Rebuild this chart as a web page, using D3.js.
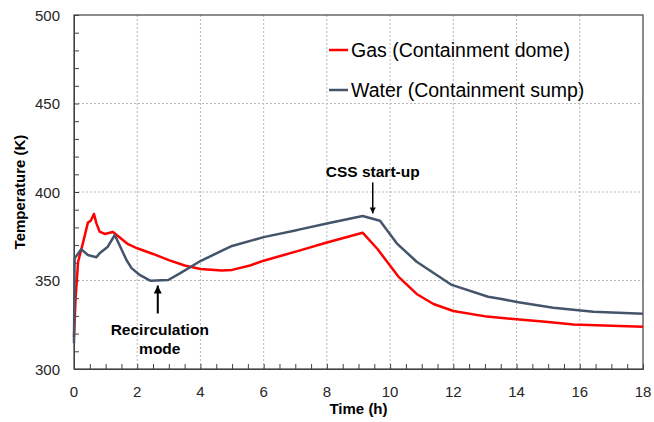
<!DOCTYPE html>
<html>
<head>
<meta charset="utf-8">
<script src="https://cdn.jsdelivr.net/npm/d3@7"></script>
<style>
  html, body { margin: 0; padding: 0; background: #fff; }
  svg { display: block; font-family: "Liberation Sans", Arial, sans-serif; }
</style>
</head>
<body>
<svg id="chart" width="654" height="422"></svg>
<script>
// ---- Data ----
const gasTime  = [0, 0.05, 0.13, 0.28, 0.44, 0.53, 0.63, 0.71, 0.81, 0.97, 1.23, 1.39, 1.71, 2.0, 2.5, 3.0, 3.5, 4.0, 4.67, 5.0, 5.57, 6.0, 7.15, 8.0, 9.13, 9.6, 10.26, 10.84, 11.37, 12.0, 13.06, 14.0, 15.0, 15.8, 17.0, 18.0];
const gasTemp  = [318, 340, 360.6, 371, 382.7, 383.8, 387.6, 382.3, 377.6, 376.3, 377.4, 375.1, 370.5, 368.2, 365, 361.5, 358.5, 356.5, 355.6, 356, 358.5, 361.2, 367, 371.5, 377, 367.8, 352.2, 342.4, 336.7, 332.8, 329.6, 328.1, 326.5, 325.2, 324.5, 323.9];

const waterTime = [0, 0.02, 0.23, 0.44, 0.71, 0.81, 1.07, 1.29, 1.39, 1.66, 1.82, 2.09, 2.41, 2.98, 3.35, 4.0, 4.7, 5.0, 6.0, 7.0, 7.15, 8.0, 9.13, 9.68, 10.21, 10.84, 11.95, 13.1, 13.48, 14.06, 15.16, 16.43, 18.0];
const waterTemp = [314.5, 362.5, 367.6, 364.4, 363.1, 365.4, 369.1, 375.7, 371.9, 361.6, 357, 353, 349.9, 350.3, 354, 361, 367, 369.5, 374.5, 378.3, 378.9, 382.2, 386.4, 383.8, 371, 360.6, 347.5, 340.8, 339.7, 337.7, 334.6, 332.4, 331.2];

const seriesNames  = ["Gas (Containment dome)", "Water (Containment sump)"];
const seriesColors = ["#ff0000", "#44546a"];

const xTickValues = [0, 2, 4, 6, 8, 10, 12, 14, 16, 18];
const yTickValues = [300, 350, 400, 450, 500];

const annotations = [
  { lines: ["Recirculation", "mode"], t: 2.65, T: 350 },
  { lines: ["CSS start-up"], t: 9.45, T: 384.5 }
];

// ---- Layout ----
const W = 654, H = 422;
const m = { left: 74, right: 11, top: 15, bottom: 53 };
const x0 = m.left, x1 = W - m.right, y0 = m.top, y1 = H - m.bottom;

const svg = d3.select("#chart");
const x = d3.scaleLinear().domain([0, 18]).range([x0, x1]);
const y = d3.scaleLinear().domain([300, 500]).range([y1, y0]);

const axisColor = "#404040";
const textColor = "#262626";

// grid
const g = svg.append("g");
g.selectAll("line.vg").data(xTickValues.filter(d => d > 0 && d < 18)).enter()
  .append("line")
  .attr("x1", d => x(d)).attr("x2", d => x(d))
  .attr("y1", y0).attr("y2", y1)
  .attr("stroke", "#b8b8b8").attr("stroke-width", 1).attr("stroke-dasharray", "2,2");
g.selectAll("line.hg").data(yTickValues.filter(d => d > 300 && d < 500)).enter()
  .append("line")
  .attr("x1", x0).attr("x2", x1)
  .attr("y1", d => y(d)).attr("y2", d => y(d))
  .attr("stroke", "#b8b8b8").attr("stroke-width", 1).attr("stroke-dasharray", "2,2");

// frame
svg.append("rect").attr("x", x0).attr("y", y0).attr("width", x1 - x0).attr("height", y1 - y0)
  .attr("fill", "none").attr("stroke", axisColor).attr("stroke-width", 1.2);

// axes (ticks inward)
const xAxis = d3.axisBottom(x).tickValues(d3.range(0, 18.01, 0.5)).tickSize(-5).tickFormat("");
svg.append("g").attr("transform", `translate(0,${y1})`).call(xAxis)
  .call(s => s.select(".domain").attr("stroke", axisColor))
  .call(s => s.selectAll(".tick line").attr("stroke", axisColor));
const yAxis = d3.axisLeft(y).tickValues(d3.range(300, 500.1, 10)).tickSize(-5).tickFormat("");
svg.append("g").attr("transform", `translate(${x0},0)`).call(yAxis)
  .call(s => s.select(".domain").attr("stroke", axisColor))
  .call(s => s.selectAll(".tick line").attr("stroke", axisColor));

// tick labels
svg.append("g").selectAll("text").data(xTickValues).enter().append("text")
  .attr("x", d => x(d)).attr("y", 397).attr("text-anchor", "middle")
  .attr("font-size", 15).attr("fill", textColor).text(d => d);
svg.append("g").selectAll("text").data(yTickValues).enter().append("text")
  .attr("x", 60).attr("y", d => y(d) + 5.5).attr("text-anchor", "end")
  .attr("font-size", 15).attr("fill", textColor).text(d => d);

// axis titles
svg.append("text").attr("x", (x0 + x1) / 2).attr("y", 414).attr("text-anchor", "middle")
  .attr("font-size", 15).attr("font-weight", "bold").attr("fill", "#000").text("Time (h)");
svg.append("text").attr("transform", `translate(25,${(y0 + y1) / 2}) rotate(-90)`)
  .attr("text-anchor", "middle")
  .attr("font-size", 15).attr("font-weight", "bold").attr("fill", "#000").text("Temperature (K)");

// lines
const line = d3.line().x(d => x(d[0])).y(d => y(d[1]));
const series = [d3.zip(gasTime, gasTemp), d3.zip(waterTime, waterTemp)];
series.forEach((s, i) => {
  svg.append("path").datum(s).attr("d", line)
    .attr("fill", "none").attr("stroke", seriesColors[i]).attr("stroke-width", 2.5)
    .attr("stroke-linejoin", "round");
});

// legend
const legY = [50, 90];
seriesNames.forEach((n, i) => {
  svg.append("line").attr("x1", 329).attr("x2", 348).attr("y1", legY[i]).attr("y2", legY[i])
    .attr("stroke", seriesColors[i]).attr("stroke-width", 2.5);
  svg.append("text").attr("x", 351).attr("y", legY[i] + 7).attr("font-size", 19.5)
    .attr("fill", "#000").text(n);
});

// annotations
svg.append("defs").append("marker").attr("id", "ah").attr("viewBox", "0 0 10 10")
  .attr("refX", 10).attr("refY", 5).attr("markerWidth", 4).attr("markerHeight", 4)
  .attr("markerUnits", "strokeWidth").attr("orient", "auto")
  .append("path").attr("d", "M0,0 L10,5 L0,10 Z").attr("fill", "#000");

// Recirculation mode: arrow below the curve pointing up
{
  const a = annotations[0];
  const ax = x(a.t);
  svg.append("line").attr("x1", ax).attr("x2", ax).attr("y1", y(a.T) + 33).attr("y2", y(a.T) + 5)
    .attr("stroke", "#000").attr("stroke-width", 2).attr("marker-end", "url(#ah)");
  a.lines.forEach((l, k) => {
    svg.append("text").attr("x", ax + 2).attr("y", y(a.T) + 54 + k * 19).attr("text-anchor", "middle")
      .attr("font-size", 15.5).attr("font-weight", "bold").attr("fill", "#000").text(l);
  });
}
// CSS start-up: arrow above pointing down
{
  const a = annotations[1];
  const ax = x(a.t);
  svg.append("line").attr("x1", ax).attr("x2", ax).attr("y1", y(a.T) - 37).attr("y2", y(a.T) - 6)
    .attr("stroke", "#000").attr("stroke-width", 1.5).attr("marker-end", "url(#ah)");
  svg.append("text").attr("x", ax).attr("y", y(a.T) - 42).attr("text-anchor", "middle")
    .attr("font-size", 15.5).attr("font-weight", "bold").attr("fill", "#000").text(a.lines[0]);
}
</script>
</body>
</html>
